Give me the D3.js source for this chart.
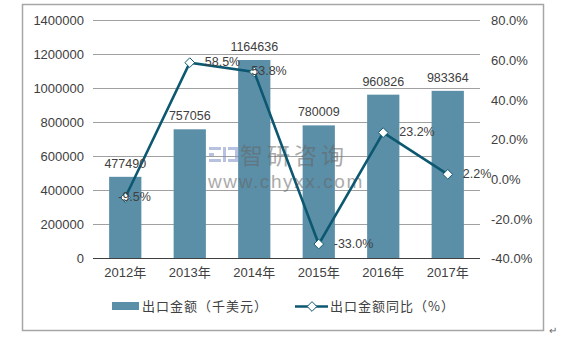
<!DOCTYPE html>
<html>
<head>
<meta charset="utf-8">
<script src="https://cdn.jsdelivr.net/npm/d3@7"></script>
<style>
  html, body { margin: 0; padding: 0; background: #fff; }
  svg text { font-family: "Liberation Sans", Arial, sans-serif; fill: #404040; }
  svg .cjk { font-family: "Noto Sans CJK SC", sans-serif; }
</style>
</head>
<body>
<script>
// Data
const years = ['2012年', '2013年', '2014年', '2015年', '2016年', '2017年'];
const exportValues = [477490, 757056, 1164636, 780009, 960826, 983364];
const growthRates = [-9.5, 58.5, 53.8, -33.0, 23.2, 2.2];
const leftTicks = [0, 200000, 400000, 600000, 800000, 1000000, 1200000, 1400000];
const rightTicks = [-40, -20, 0, 20, 40, 60, 80];
const legendLabels = ['出口金额（千美元）', '出口金额同比（%）'];

const w = 570;
const h = 337;
const barColor = '#5b8fa8';
const lineColor = '#0d5870';

const svg = d3.select('body')
  .append('svg')
  .attr('width', w)
  .attr('height', h);

// outer frame
svg.append('rect')
  .attr('x', 22.5).attr('y', 4.5)
  .attr('width', 521).attr('height', 326)
  .attr('fill', 'none')
  .attr('stroke', '#a6a6a6')
  .attr('stroke-width', 1.5);

svg.append('text')
  .attr('x', 549).attr('y', 334)
  .attr('font-size', 10)
  .style('fill', '#666')
  .text('↵');

const xScale = d3.scaleBand()
  .domain(years)
  .range([93, 480])
  .paddingInner(0.5)
  .paddingOuter(0.25);

const yLeft = d3.scaleLinear()
  .domain([0, 1400000])
  .range([258, 20]);

const yRight = d3.scaleLinear()
  .domain([-40, 80])
  .range([258, 20]);

// gridlines
svg.append('g')
  .selectAll('line')
  .data(leftTicks.slice(1))
  .enter()
  .append('line')
  .attr('x1', 93).attr('x2', 480)
  .attr('y1', d => Math.round(yLeft(d)) + 0.5)
  .attr('y2', d => Math.round(yLeft(d)) + 0.5)
  .attr('stroke', '#a0a0a0')
  .attr('stroke-width', 1);

// left axis
const leftAxis = svg.append('g')
  .attr('transform', 'translate(84,0)')
  .call(d3.axisLeft(yLeft).tickValues(leftTicks).tickSize(0).tickPadding(0).tickFormat(d3.format('d')));
leftAxis.select('.domain').remove();
leftAxis.selectAll('text')
  .attr('font-size', 13)
  .attr('dy', '0.36em')
  .style('font-family', '"Liberation Sans", Arial, sans-serif')
  .style('fill', '#404040');

// right axis
const rightAxis = svg.append('g')
  .attr('transform', 'translate(491,0)')
  .call(d3.axisRight(yRight).tickValues(rightTicks).tickSize(0).tickPadding(0).tickFormat(d => d.toFixed(1) + '%'));
rightAxis.select('.domain').remove();
rightAxis.selectAll('text')
  .attr('font-size', 13)
  .attr('dy', '0.36em')
  .style('font-family', '"Liberation Sans", Arial, sans-serif')
  .style('fill', '#404040');

// bars
svg.selectAll('.bar')
  .data(exportValues)
  .enter()
  .append('rect')
  .attr('class', 'bar')
  .attr('x', (d, i) => xScale(years[i]))
  .attr('y', d => yLeft(d))
  .attr('width', xScale.bandwidth())
  .attr('height', d => yLeft(0) - yLeft(d))
  .attr('fill', barColor);

// baseline
svg.append('line')
  .attr('x1', 93).attr('x2', 480)
  .attr('y1', 258.5).attr('y2', 258.5)
  .attr('stroke', '#404040')
  .attr('stroke-width', 1.2);

// x axis labels
const xAxis = svg.append('g')
  .attr('transform', 'translate(0,258)')
  .call(d3.axisBottom(xScale).tickSize(0).tickPadding(10));
xAxis.select('.domain').remove();
xAxis.selectAll('text')
  .attr('font-size', 13)
  .style('font-family', '"Liberation Sans", "Noto Sans CJK SC", sans-serif')
  .style('fill', '#404040');

// watermark
const wm = svg.append('g').attr('opacity', 0.55);
wm.append('rect').attr('x', 209).attr('y', 147).attr('width', 12).attr('height', 3).attr('fill', '#7f8fc8');
wm.append('rect').attr('x', 209).attr('y', 153).attr('width', 5).attr('height', 3).attr('fill', '#7f8fc8');
wm.append('rect').attr('x', 209).attr('y', 159).attr('width', 12).attr('height', 3).attr('fill', '#7f8fc8');
wm.append('rect').attr('x', 223).attr('y', 147).attr('width', 3).attr('height', 15).attr('fill', '#7f8fc8');
wm.append('rect').attr('x', 228).attr('y', 147).attr('width', 10).attr('height', 3).attr('fill', '#7f8fc8');
wm.append('rect').attr('x', 228).attr('y', 159).attr('width', 10).attr('height', 3).attr('fill', '#7f8fc8');
wm.append('rect').attr('x', 235).attr('y', 150).attr('width', 3).attr('height', 9).attr('fill', '#7f8fc8');
wm.append('text')
  .attr('class', 'cjk')
  .attr('x', 240).attr('y', 164)
  .attr('font-size', 23)
  .attr('letter-spacing', 4)
  .style('fill', '#666')
  .text('智研咨询');
wm.append('text')
  .attr('x', 208).attr('y', 188)
  .attr('font-size', 19)
  .attr('letter-spacing', 1.6)
  .style('fill', '#666')
  .text('www.chyxx.com');

// line
const lineGen = d3.line()
  .x((d, i) => xScale(years[i]) + xScale.bandwidth() / 2)
  .y(d => yRight(d));

svg.append('path')
  .datum(growthRates)
  .attr('d', lineGen)
  .attr('fill', 'none')
  .attr('stroke', lineColor)
  .attr('stroke-width', 2.6);

const diamond = d3.symbol().type(d3.symbolDiamond2).size(60);
svg.selectAll('.marker')
  .data(growthRates)
  .enter()
  .append('path')
  .attr('class', 'marker')
  .attr('d', diamond)
  .attr('transform', (d, i) => `translate(${xScale(years[i]) + xScale.bandwidth() / 2},${yRight(d)})`)
  .attr('fill', '#fff')
  .attr('stroke', lineColor)
  .attr('stroke-width', 1);

// bar value labels
svg.selectAll('.bar-label')
  .data(exportValues)
  .enter()
  .append('text')
  .attr('class', 'bar-label')
  .attr('x', (d, i) => xScale(years[i]) + xScale.bandwidth() / 2)
  .attr('y', d => yLeft(d) - 9)
  .attr('text-anchor', 'middle')
  .attr('font-size', 12.5)
  .text(d => d);

// rate labels (some nudged to avoid the line, as in the original)
const rateLabelDx = [-7, 15, -3, 15, 16, 15];
svg.selectAll('.rate-label')
  .data(growthRates)
  .enter()
  .append('text')
  .attr('class', 'rate-label')
  .attr('x', (d, i) => xScale(years[i]) + xScale.bandwidth() / 2 + rateLabelDx[i])
  .attr('y', d => yRight(d) - 1)
  .attr('dy', '0.36em')
  .attr('font-size', 12.5)
  .text(d => d.toFixed(1) + '%');

// legend
const legend = svg.append('g');
legend.append('rect')
  .attr('x', 112).attr('y', 302)
  .attr('width', 27).attr('height', 8)
  .attr('fill', barColor);
legend.append('text')
  .attr('class', 'cjk')
  .attr('x', 142).attr('y', 311)
  .attr('font-size', 13)
  .attr('letter-spacing', 1)
  .text(legendLabels[0]);

legend.append('line')
  .attr('x1', 295).attr('x2', 328)
  .attr('y1', 306.5).attr('y2', 306.5)
  .attr('stroke', lineColor)
  .attr('stroke-width', 2.6);
legend.append('path')
  .attr('d', diamond)
  .attr('transform', 'translate(312,306.5)')
  .attr('fill', '#fff')
  .attr('stroke', lineColor)
  .attr('stroke-width', 1);
legend.append('text')
  .attr('class', 'cjk')
  .attr('x', 330).attr('y', 311)
  .attr('font-size', 13)
  .attr('letter-spacing', 1)
  .text(legendLabels[1]);
</script>
</body>
</html>
